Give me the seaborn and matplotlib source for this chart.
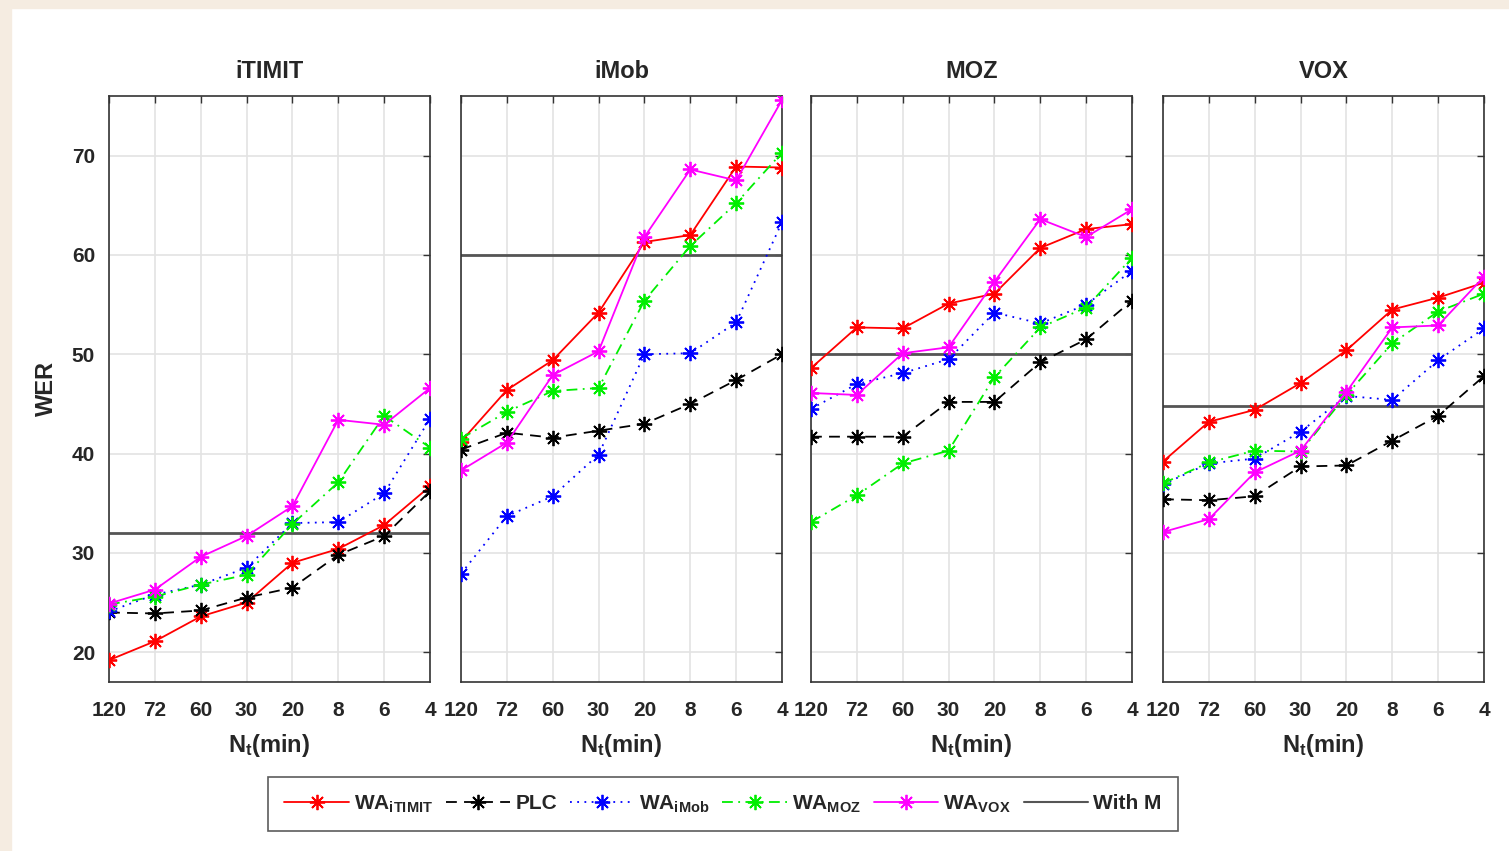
"""
WER vs. amount of target data, four target corpora, MATLAB-style figure
"""
import numpy as np
import pandas as pd
import matplotlib
matplotlib.use("Agg")
import matplotlib.pyplot as plt
from matplotlib.patches import Rectangle
from matplotlib.lines import Line2D
import seaborn as sns

# ---- data ----
x_labels = ["120", "72", "60", "30", "20", "8", "6", "4"]
panels = ["iTIMIT", "iMob", "MOZ", "VOX"]

wa_itimit = {
    "iTIMIT": [19.2, 21.1, 23.6, 25.0, 29.0, 30.4, 32.8, 36.7],
    "iMob":   [41.2, 46.4, 49.4, 54.2, 61.3, 62.0, 68.9, 68.8],
    "MOZ":    [48.6, 52.7, 52.6, 55.1, 56.1, 60.7, 62.6, 63.1],
    "VOX":    [39.2, 43.2, 44.4, 47.1, 50.4, 54.5, 55.7, 57.2],
}
plc = {
    "iTIMIT": [24.0, 23.9, 24.2, 25.5, 26.5, 29.8, 31.7, 36.2],
    "iMob":   [40.4, 42.1, 41.6, 42.3, 43.0, 45.0, 47.4, 50.0],
    "MOZ":    [41.7, 41.7, 41.7, 45.2, 45.2, 49.2, 51.5, 55.4],
    "VOX":    [35.4, 35.3, 35.7, 38.7, 38.8, 41.3, 43.8, 47.8],
}
wa_imob = {
    "iTIMIT": [24.1, 25.8, 26.8, 28.5, 33.0, 33.1, 36.0, 43.5],
    "iMob":   [27.9, 33.7, 35.7, 39.9, 50.0, 50.1, 53.2, 63.3],
    "MOZ":    [44.5, 47.0, 48.1, 49.5, 54.2, 53.1, 55.0, 58.4],
    "VOX":    [36.9, 39.0, 39.5, 42.2, 45.8, 45.4, 49.4, 52.6],
}
wa_moz = {
    "iTIMIT": [24.8, 25.6, 26.8, 27.8, 32.9, 37.1, 43.8, 40.6],
    "iMob":   [41.5, 44.2, 46.3, 46.6, 55.4, 60.9, 65.2, 70.3],
    "MOZ":    [33.1, 35.8, 39.0, 40.3, 47.7, 52.7, 54.7, 59.7],
    "VOX":    [37.0, 39.1, 40.3, 40.2, 45.9, 51.1, 54.3, 56.1],
}
wa_vox = {
    "iTIMIT": [24.9, 26.3, 29.6, 31.7, 34.7, 43.4, 42.9, 46.6],
    "iMob":   [38.3, 41.1, 47.9, 50.3, 61.8, 68.6, 67.5, 75.6],
    "MOZ":    [46.1, 45.9, 50.1, 50.7, 57.3, 63.6, 61.8, 64.6],
    "VOX":    [32.1, 33.4, 38.1, 40.3, 46.2, 52.7, 52.9, 57.8],
}
with_m = {"iTIMIT": 32.0, "iMob": 60.0, "MOZ": 50.0, "VOX": 44.8}

series = [
    ("WA$_{\\mathbf{iTIMIT}}$", wa_itimit, "#ff0000", "-"),
    ("PLC", plc, "#000000", (0, (6, 4))),
    ("WA$_{\\mathbf{iMob}}$", wa_imob, "#0000ff", (0, (1, 3))),
    ("WA$_{\\mathbf{MOZ}}$", wa_moz, "#00ee00", (0, (6, 3, 1, 3))),
    ("WA$_{\\mathbf{VOX}}$", wa_vox, "#ff00ff", "-"),
]

sns.set_style("white")
plt.rcParams["font.family"] = ["Liberation Sans", "DejaVu Sans"]
plt.rcParams["font.weight"] = "bold"
plt.rcParams["mathtext.fontset"] = "custom"
plt.rcParams["mathtext.rm"] = "Liberation Sans:bold"
plt.rcParams["mathtext.bf"] = "Liberation Sans:bold"
plt.rcParams["mathtext.it"] = "Liberation Sans:bold"

fig = plt.figure(figsize=(15.09, 8.51), dpi=100, facecolor="white")

# beige frame strips (left and top)
fig.patches.append(Rectangle((0, 0), 11 / 1509, 1, transform=fig.transFigure,
                             color="#f5ece1", zorder=0))
fig.patches.append(Rectangle((0, 1 - 8 / 851), 1, 8 / 851, transform=fig.transFigure,
                             color="#f5ece1", zorder=0))

lefts = [109, 461, 811, 1163]
W, H = 1509.0, 851.0
marker = (8, 2, 0)
xs = np.arange(len(x_labels))

for i, (name, left) in enumerate(zip(panels, lefts)):
    ax = fig.add_axes([left / W, 1 - 682 / H, 321 / W, (682 - 96) / H])
    for label, d, color, ls in series:
        df = pd.DataFrame({"x": xs, "wer": d[name]})
        sns.lineplot(data=df, x="x", y="wer", ax=ax, color=color, linestyle=ls,
                     linewidth=1.3, marker=marker, markersize=11, markeredgewidth=1.3,
                     markeredgecolor=color, zorder=3)
    ax.axhline(with_m[name], color="#555555", linewidth=2.0, zorder=2)

    ax.set_xlim(0, 7)
    ax.set_ylim(17, 76)
    ax.set_xticks(xs)
    ax.set_xticklabels(x_labels)
    ax.set_yticks([20, 30, 40, 50, 60, 70])
    if i == 0:
        ax.set_yticklabels(["20", "30", "40", "50", "60", "70"])
        ax.set_ylabel("WER", fontsize=17, fontweight="bold", labelpad=10)
    else:
        ax.set_yticklabels([])
        ax.set_ylabel("")
    ax.set_xlabel("N$_\\mathregular{t}$(min)", fontsize=17, fontweight="bold", labelpad=8)
    ax.set_title(name, fontsize=17, fontweight="bold", pad=13)
    ax.grid(True, color="#e3e3e3", linewidth=1.2)
    ax.tick_params(direction="in", top=True, right=True, length=5, width=1,
                   color="#333333", labelsize=15, pad=14)
    ax.tick_params(axis="y", pad=10)
    for sp in ax.spines.values():
        sp.set_visible(True)
        sp.set_color("#333333")
        sp.set_linewidth(1.2)

handles = [Line2D([], [], color=c, linestyle=ls, linewidth=1.3, marker=marker,
                  markersize=11, markeredgewidth=1.3) for _, _, c, ls in series]
handles.append(Line2D([], [], color="#555555", linewidth=1.5))
labels = [s[0] for s in series] + ["With M"]
leg = fig.legend(handles, labels, loc="center", bbox_to_anchor=(723 / W, 1 - 804 / H),
                 ncol=6, frameon=True, fancybox=False, edgecolor="#333333",
                 fontsize=15, handlelength=3.1, handletextpad=0.25, columnspacing=0.6,
                 borderpad=0.8, borderaxespad=0)
leg.get_frame().set_linewidth(1.2)

fig.savefig("out.png", dpi=100, facecolor=fig.get_facecolor())
